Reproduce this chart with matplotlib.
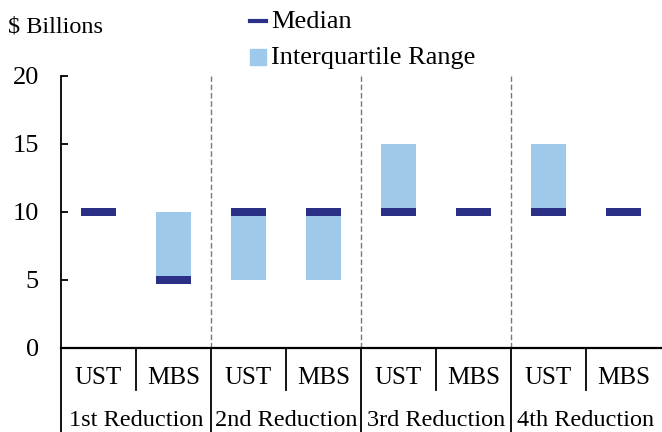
import matplotlib
matplotlib.use("Agg")
import matplotlib.pyplot as plt
import numpy as np
from matplotlib.lines import Line2D
from matplotlib.patches import Rectangle

plt.rcParams['font.family'] = ['Liberation Serif', 'DejaVu Serif']

# Data
categories = ["UST", "MBS", "UST", "MBS", "UST", "MBS", "UST", "MBS"]
groups = ["1st Reduction", "2nd Reduction", "3rd Reduction", "4th Reduction"]
median = np.array([10, 5, 10, 10, 10, 10, 10, 10])
q25 = np.array([10, 5, 5, 5, 10, 10, 10, 10])
q75 = np.array([10, 10, 10, 10, 15, 10, 15, 10])

navy = "#2B3087"
light = "#9FC9EA"

W, H = 662, 432
fig = plt.figure(figsize=(W / 100, H / 100), dpi=100)
ax = fig.add_axes([61 / W, (H - 348) / H, 600 / W, 272 / H])

x = np.arange(len(categories)) + 0.5

# interquartile range boxes
ax.bar(x, q75 - q25, bottom=q25, width=0.47, color=light, zorder=2)
# median markers
ax.bar(x, 0.56, bottom=median - 0.28, width=0.47, color=navy, zorder=3)

# dashed separators between reductions
for xv in [2, 4, 6]:
    ax.axvline(xv, color="#7a7a7a", lw=1, linestyle=(0, (4, 2)), zorder=1)

ax.set_xlim(0, 8)
ax.set_ylim(0, 20)
ax.set_yticks([0, 5, 10, 15, 20])
ax.tick_params(axis='y', direction='in', length=5, width=1.3, labelsize=19, pad=16)
ax.set_xticks([])
for s in ["top", "right"]:
    ax.spines[s].set_visible(False)
ax.spines["left"].set_linewidth(1.3)
ax.spines["bottom"].set_linewidth(1.6)

# category table under the axis
tr = ax.get_xaxis_transform()
for xv in [0, 2, 4, 6]:
    ax.plot([xv, xv], [0, -0.31], transform=tr, color="black", lw=1.3, clip_on=False)
for xv in [1, 3, 5, 7]:
    ax.plot([xv, xv], [0, -0.154], transform=tr, color="black", lw=1.3, clip_on=False)
for xi, lab in zip(x, categories):
    ax.text(xi, -0.132, lab, transform=tr, ha="center", va="baseline", fontsize=18)
for i, g in enumerate(groups):
    ax.text(2 * i + 1, -0.287, g, transform=tr, ha="center", va="baseline", fontsize=17.5)

# unit label
fig.text(8 / W, 1 - 32 / H, "$ Billions", ha="left", va="baseline", fontsize=17.5)

# legend drawn by hand
fig.add_artist(Line2D([250 / W, 266 / W], [1 - 20.5 / H, 1 - 20.5 / H],
                      color=navy, lw=3, transform=fig.transFigure))
fig.add_artist(Rectangle((250 / W, 1 - 65 / H), 16 / W, 16 / H,
                         color=light, transform=fig.transFigure))
fig.text(271 / W, 1 - 28 / H, "Median", ha="left", va="baseline", fontsize=19)
fig.text(271 / W, 1 - 64 / H, "Interquartile Range", ha="left", va="baseline", fontsize=19)

fig.savefig("out.png", dpi=100)
